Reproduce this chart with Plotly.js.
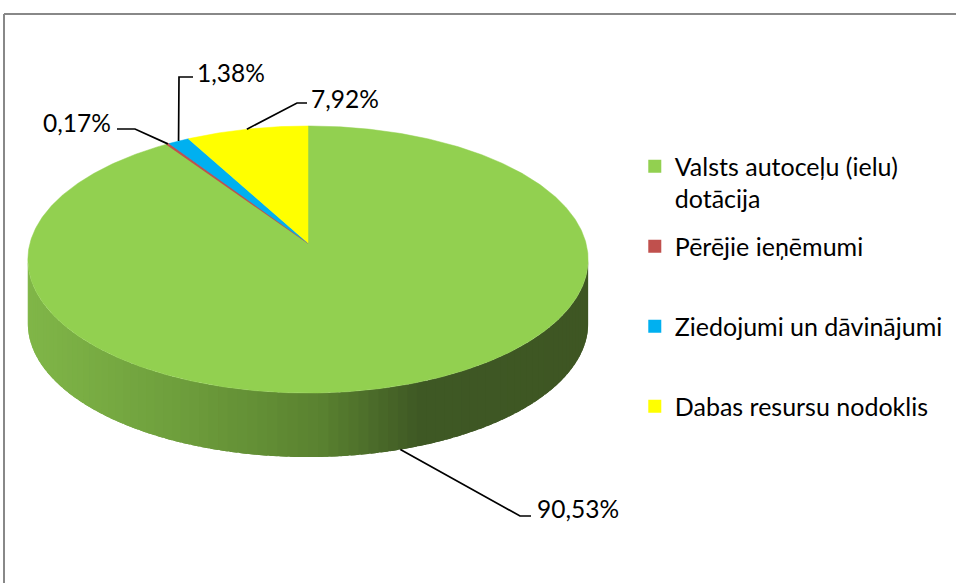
<!DOCTYPE html>
<html><head><meta charset="utf-8">
<script src="https://cdn.plot.ly/plotly-3.0.1.min.js"></script>
<style>html,body{margin:0;padding:0;background:#fff}</style>
</head><body><div id="chart" style="width:956px;height:583px"></div>
<script>
// ---- data ----
const categories = ["Valsts autoceļu (ielu) dotācija", "Pērējie ieņēmumi", "Ziedojumi un dāvinājumi", "Dabas resursu nodoklis"];
const legendLabels = ["Valsts autoceļu (ielu)<br>dotācija", "Pērējie ieņēmumi<br> ", "Ziedojumi un dāvinājumi<br> ", "Dabas resursu nodoklis<br> "];
const values = [90.53, 0.17, 1.38, 7.92];
const valueLabels = ["90,53%", "0,17%", "1,38%", "7,92%"];
const colors = ["#92d050", "#c0504d", "#00b0f0", "#ffff00"];

// ---- geometry / style (layout, not data) ----
const G = {cx: 308, cy: 243, k: 278, a: 131.5, p: 0.1236, depth: 64};
const FONT = "Lato, 'DejaVu Sans', sans-serif";
const labelLayout = [
  {elbow: [520, 516], end: [531, 516], tx: 535, ty: 508, anchor: "left"},
  {elbow: [135, 129], end: [117, 129], tx: 113, ty: 122, anchor: "right"},
  {elbow: [179, 77], end: [193, 77], tx: 195, ty: 72, anchor: "left"},
  {elbow: [297, 103], end: [307, 103], tx: 309, ty: 98, anchor: "left"}
];
const wallStops = [[27, [128,182,72]], [180, [110,158,60]], [320, [90,130,48]], [420, [62,88,36]], [588, [62,86,35]]];

function proj(deg, dz) {
  const t = deg * Math.PI / 180, c = Math.cos(t), s = Math.sin(t), w = 1 + G.p * c;
  return [G.cx + G.k * s / w, G.cy - G.a * c / w + (dz || 0)];
}
function wallColor(x) {
  if (x <= wallStops[0][0]) return wallStops[0][1];
  for (let i = 1; i < wallStops.length; i++) {
    if (x <= wallStops[i][0]) {
      const [x0, c0] = wallStops[i-1], [x1, c1] = wallStops[i];
      const f = (x - x0) / (x1 - x0);
      return c0.map((v, j) => Math.round(v + (c1[j] - v) * f));
    }
  }
  return wallStops[wallStops.length-1][1];
}

const total = values.reduce((s, v) => s + v, 0);
const starts = [], ends = [];
let acc = 0;
values.forEach(v => { starts.push(acc / total * 360); acc += v; ends.push(acc / total * 360); });

const traces = [];
// side wall (front half; only the first slice is visible there)
const tA = Math.acos(-G.p) * 180 / Math.PI, tB = 360 - tA;
const N = 90, dt = (tB - tA) / N;
for (let i = 0; i < N; i++) {
  const t1 = tA + dt * i, t2 = Math.min(tB, t1 + dt * 1.8);
  const xs = [], ys = [];
  for (let j = 0; j <= 4; j++) { const q = proj(t1 + (t2 - t1) * j / 4, 0); xs.push(q[0]); ys.push(q[1]); }
  for (let j = 4; j >= 0; j--) { const q = proj(t1 + (t2 - t1) * j / 4, G.depth); xs.push(q[0]); ys.push(q[1]); }
  const col = wallColor(proj(t1 + dt / 2, 0)[0]);
  const cs = "rgb(" + col.join(",") + ")";
  traces.push({type: "scatter", x: xs, y: ys, fill: "toself", fillcolor: cs, mode: "none",
    showlegend: false, hoverinfo: "skip"});
}
// top face slices
values.forEach((v, i) => {
  const xs = [G.cx], ys = [G.cy];
  const steps = Math.max(2, Math.ceil((ends[i] - starts[i]) / 0.5));
  for (let j = 0; j <= steps; j++) { const q = proj(starts[i] + (ends[i] - starts[i]) * j / steps, 0); xs.push(q[0]); ys.push(q[1]); }
  xs.push(G.cx); ys.push(G.cy);
  traces.push({type: "scatter", x: xs, y: ys, fill: "toself", fillcolor: colors[i], mode: "lines",
    line: {color: colors[i], width: i === 1 ? 1.2 : 0.5}, showlegend: false, name: categories[i], hoverinfo: "skip"});
});
// leader lines
values.forEach((v, i) => {
  const mid = (starts[i] + ends[i]) / 2;
  const onWall = Math.cos(mid * Math.PI / 180) < -G.p;
  const s = proj(mid, onWall ? G.depth : 0);
  const L = labelLayout[i];
  traces.push({type: "scatter", x: [s[0], L.elbow[0], L.end[0]], y: [s[1], L.elbow[1], L.end[1]],
    mode: "lines", line: {color: "#000", width: 1.7}, showlegend: false, hoverinfo: "skip"});
});
// legend entries
values.forEach((v, i) => {
  traces.push({type: "scatter", x: [null], y: [null], mode: "markers", name: legendLabels[i],
    legendgroup: "g" + i, marker: {symbol: "square", size: 13, color: colors[i]}, showlegend: true});
});

const annotations = values.map((v, i) => ({
  x: labelLayout[i].tx, y: labelLayout[i].ty, xref: "x", yref: "y", text: valueLabels[i], showarrow: false,
  xanchor: labelLayout[i].anchor, yanchor: "middle", font: {family: FONT, size: 24.5, color: "#000"}
}));

const layout = {
  width: 956, height: 583, margin: {l: 0, r: 0, t: 0, b: 0},
  paper_bgcolor: "#fff", plot_bgcolor: "#fff",
  xaxis: {range: [0, 956], visible: false, fixedrange: true},
  yaxis: {range: [583, 0], visible: false, fixedrange: true},
  showlegend: true,
  legend: {x: 0.664, y: 0.754, xanchor: "left", yanchor: "top", traceorder: "grouped", tracegroupgap: 12,
    valign: "top", font: {family: FONT, size: 25, color: "#000"}, bgcolor: "rgba(0,0,0,0)"},
  shapes: [
    {type: "line", xref: "x", yref: "y", x0: 4, y0: 14, x1: 960, y1: 14, line: {color: "#888888", width: 2}},
    {type: "line", xref: "x", yref: "y", x0: 4, y0: 14, x1: 4, y1: 590, line: {color: "#888888", width: 2}}
  ],
  annotations: annotations,
  hovermode: false
};
Plotly.newPlot("chart", traces, layout, {displayModeBar: false, staticPlot: true});
</script></body></html>
